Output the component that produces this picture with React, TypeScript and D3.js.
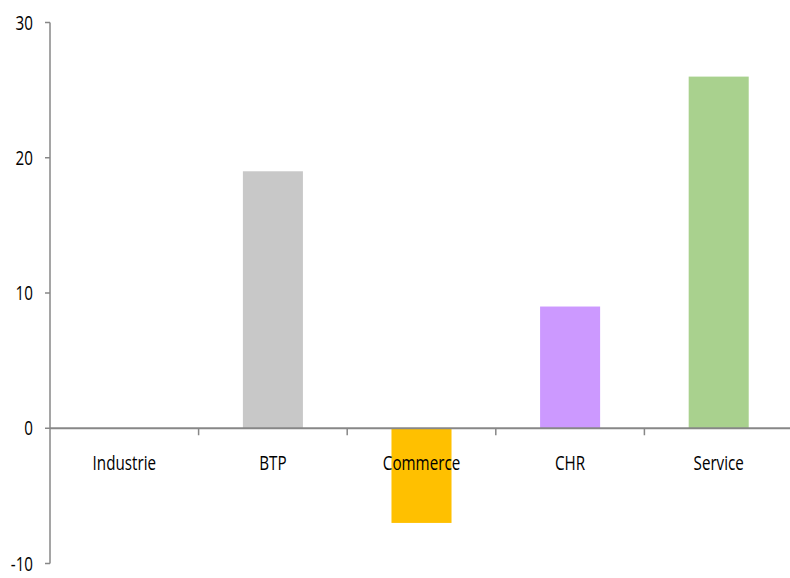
import React from "react";
import * as d3 from "d3";

const categories = ["Industrie", "BTP", "Commerce", "CHR", "Service"];
const values = [0, 19, -7, 9, 26];
const colors = ["#c8c8c8", "#c8c8c8", "#ffc000", "#cc99ff", "#a9d18e"];
const yTicks = [-10, 0, 10, 20, 30];

const W = 790;
const H = 578;
const left = 50;
const right = 793;
const top = 22.5;
const bottom = 563.5;
const SX = 0.76;

export default function App() {
  const x = d3.scaleBand<string>().domain(categories).range([left, right]).paddingInner(0).paddingOuter(0);
  const y = d3.scaleLinear().domain([-10, 30]).range([bottom, top]);
  const bw = x.bandwidth();
  const barW = bw * 0.404;
  const y0 = y(0);
  const axisColor = "#878787";
  const font = "'Open Sans', 'Noto Sans', sans-serif";
  return (
    <svg width={W} height={H} style={{ position: "absolute", left: 0, top: 0, background: "#fff" }}>
      {categories.map((c, i) => {
        const v = values[i];
        const cx = (x(c) as number) + bw / 2;
        return (
          <rect key={c} x={cx - barW / 2} width={barW} y={Math.min(y(v), y0)} height={Math.abs(y(v) - y0)} fill={colors[i]} />
        );
      })}
      {/* y axis */}
      <line x1={left} x2={left} y1={top} y2={bottom} stroke={axisColor} strokeWidth={1.5} />
      {yTicks.map((t) => (
        <g key={t}>
          <line x1={left - 5} x2={left} y1={y(t)} y2={y(t)} stroke={axisColor} strokeWidth={1.5} />
          <text
            transform={`translate(33,${y(t) + 7}) scale(${SX},1)`}
            textAnchor="end"
            fontFamily={font}
            fontSize={20}
            fill="#000"
          >
            {t}
          </text>
        </g>
      ))}
      {/* x axis */}
      <line x1={left} x2={W} y1={y0} y2={y0} stroke={axisColor} strokeWidth={2} />
      {categories.slice(1).map((c) => (
        <line key={c} x1={x(c) as number} x2={x(c) as number} y1={y0} y2={y0 + 7} stroke={axisColor} strokeWidth={1.5} />
      ))}
      {categories.map((c) => (
        <text
          key={c}
          transform={`translate(${(x(c) as number) + bw / 2},${470}) scale(${SX},1)`}
          textAnchor="middle"
          fontFamily={font}
          fontSize={20}
          fill="#000"
        >
          {c}
        </text>
      ))}
    </svg>
  );
}
